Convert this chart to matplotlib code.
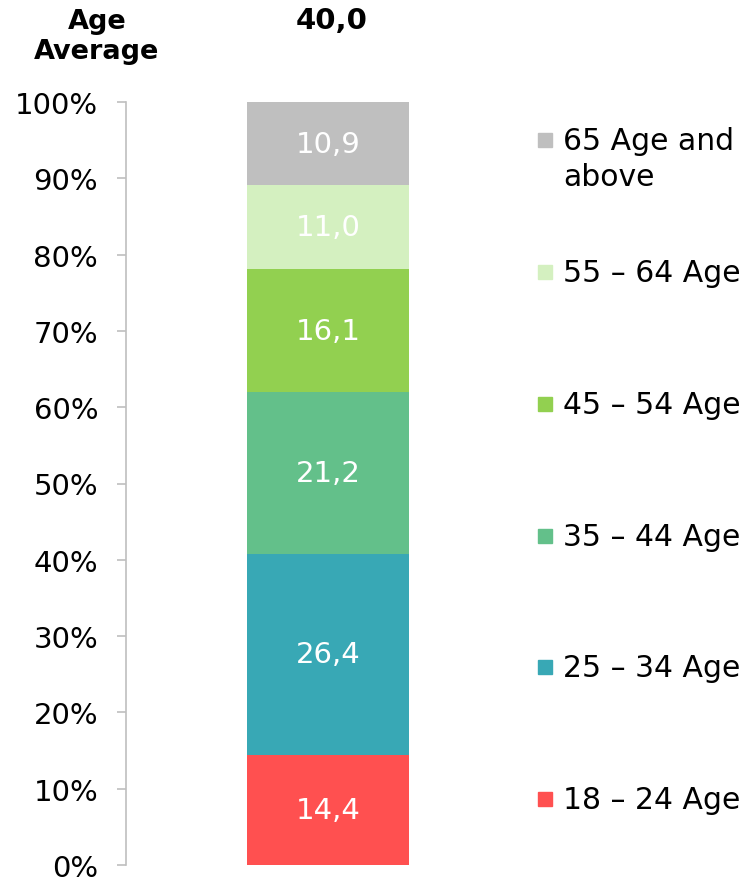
import matplotlib
matplotlib.use('Agg')
import matplotlib.pyplot as plt
from matplotlib.patches import Rectangle

# data
groups = ['18 – 24 Age', '25 – 34 Age', '35 – 44 Age', '45 – 54 Age', '55 – 64 Age', '65 Age and\nabove']
shares = [14.4, 26.4, 21.2, 16.1, 11.0, 10.9]
colors = ['#FF5050', '#38A8B5', '#63C08A', '#92D050', '#D4F0C0', '#BFBFBF']
age_average = '40,0'
yticks = [0, 10, 20, 30, 40, 50, 60, 70, 80, 90, 100]

plt.rcParams['font.family'] = ['DejaVu Sans']

W, H = 749, 879
fig = plt.figure(figsize=(W / 100, H / 100), dpi=100)
ax = fig.add_axes([126 / W, 1 - 866 / H, 404 / W, 763 / H])

bottom = 0
for val, col in zip(shares, colors):
    ax.bar(0.5, val, width=162 / 404, bottom=bottom, color=col, linewidth=0)
    ax.text(0.5, bottom + val / 2, f'{val:.1f}'.replace('.', ','), ha='center', va='center',
            color='white', fontsize=21)
    bottom += val

ax.set_xlim(0, 1)
ax.set_ylim(0, 100)
ax.set_yticks(yticks)
ax.set_yticklabels([f'{v}%' for v in yticks], fontsize=21)
ax.tick_params(axis='y', length=6.5, width=1.2, color='#BFBFBF', pad=13.5)
ax.set_xticks([])
for s in ['top', 'right', 'bottom']:
    ax.spines[s].set_visible(False)
ax.spines['left'].set_color('#BFBFBF')
ax.spines['left'].set_linewidth(1.2)

# headers
fig.text(97 / W, 1 - 37 / H, 'Age\nAverage', ha='center', va='center', fontsize=19.5,
         fontweight='bold', linespacing=1.2)
fig.text(332 / W, 1 - 21 / H, age_average, ha='center', va='center', fontsize=21, fontweight='bold')

# legend
legend_y = [800, 668, 537, 405, 273, 141]
for lab, col, y in zip(groups, colors, legend_y):
    fig.patches.append(Rectangle((538 / W, 1 - (y + 7) / H), 14 / W, 14 / H, color=col,
                                 transform=fig.transFigure, figure=fig))
    fig.text(563 / W, 1 - (y - 14) / H, lab, ha='left', va='top', fontsize=21.5, linespacing=1.32)

fig.savefig('out.png', dpi=100)
